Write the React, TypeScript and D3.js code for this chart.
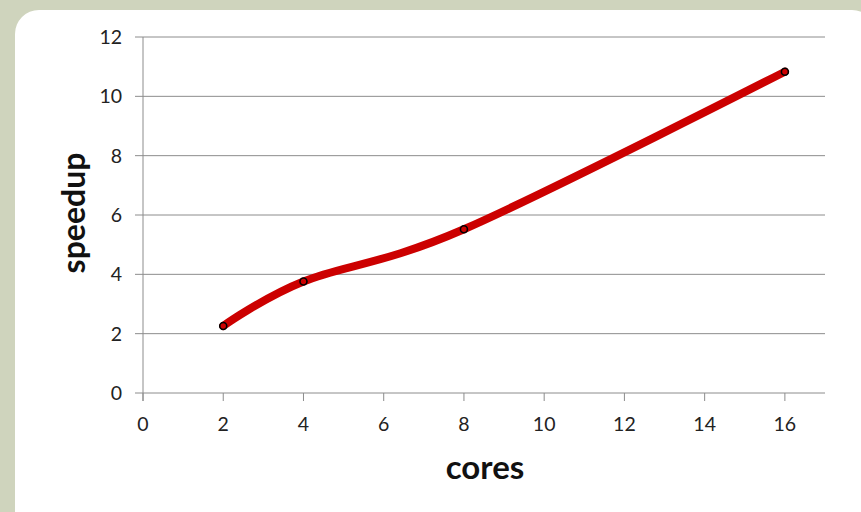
import React from "react";
import * as d3 from "d3";

const cores = [2, 4, 8, 16];
const speedup = [2.26, 3.76, 5.52, 10.83];
const xTicks = [0, 2, 4, 6, 8, 10, 12, 14, 16];
const yTicks = [0, 2, 4, 6, 8, 10, 12];

const W = 861;
const H = 512;
const plot = { left: 143, right: 825, top: 37, bottom: 393 };

export default function App() {
  const x = d3.scaleLinear().domain([0, 17]).range([plot.left, plot.right]);
  const y = d3.scaleLinear().domain([0, 12]).range([plot.bottom, plot.top]);
  const pts = cores.map((c, i) => [c, speedup[i]] as [number, number]);
  const line = d3
    .line<[number, number]>()
    .x((d) => x(d[0]))
    .y((d) => y(d[1]))
    .curve(d3.curveCardinal.tension(0));
  const font = "Lato, 'Open Sans', sans-serif";

  return (
    <svg
      width={W}
      height={H}
      style={{ position: "absolute", left: 0, top: 0, display: "block" }}
    >
      <rect x={0} y={0} width={W} height={H} fill="#cfd4bd" />
      <rect x={15} y={10} width={W} height={H + 20} rx={24} fill="#ffffff" />
      {yTicks.map((t) => (
        <g key={"y" + t}>
          <line
            x1={plot.left - 8}
            x2={plot.right}
            y1={y(t)}
            y2={y(t)}
            stroke="#8c8c8c"
            strokeWidth={1}
          />
          <text
            x={plot.left - 21}
            y={y(t)}
            dy="0.36em"
            textAnchor="end"
            fontFamily={font}
            fontSize={19.5}
            fill="#222"
          >
            {t}
          </text>
        </g>
      ))}
      <line
        x1={plot.left}
        x2={plot.left}
        y1={plot.top}
        y2={plot.bottom + 8}
        stroke="#8c8c8c"
      />
      {xTicks.map((t) => (
        <g key={"x" + t}>
          <line
            x1={x(t)}
            x2={x(t)}
            y1={plot.bottom}
            y2={plot.bottom + 8}
            stroke="#8c8c8c"
          />
          <text
            x={x(t)}
            y={plot.bottom + 38}
            textAnchor="middle"
            fontFamily={font}
            fontSize={19.5}
            fill="#222"
          >
            {t}
          </text>
        </g>
      ))}
      <path
        d={line(pts) ?? ""}
        fill="none"
        stroke="#cc0000"
        strokeWidth={8}
        strokeLinecap="round"
      />
      {pts.map((p, i) => (
        <circle
          key={i}
          cx={x(p[0])}
          cy={y(p[1])}
          r={3.5}
          fill="#cc0000"
          stroke="#000"
          strokeWidth={1.6}
        />
      ))}
      <text
        x={485}
        y={479}
        textAnchor="middle"
        fontFamily={font}
        fontSize={33}
        fontWeight="bold"
        fill="#111"
      >
        cores
      </text>
      <text
        transform={`translate(85, ${213}) rotate(-90)`}
        textAnchor="middle"
        fontFamily={font}
        fontSize={32}
        fontWeight="bold"
        fill="#111"
      >
        speedup
      </text>
    </svg>
  );
}
